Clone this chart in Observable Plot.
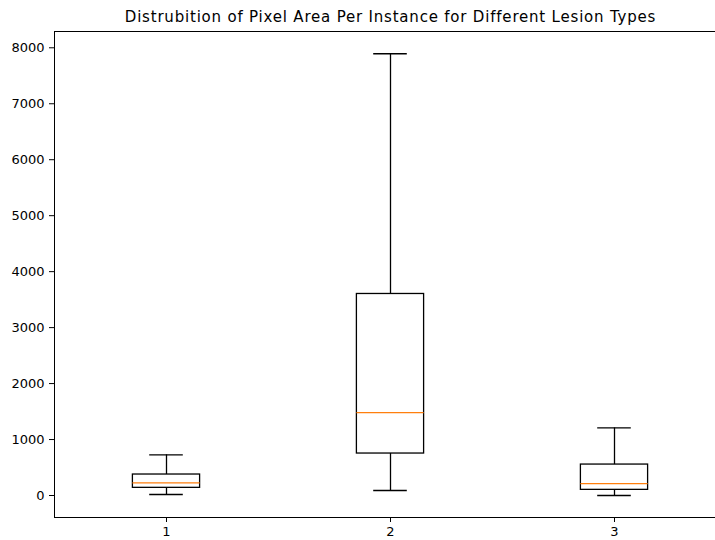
<!DOCTYPE html>
<html>
<head>
<meta charset="utf-8">
<script src="https://cdn.jsdelivr.net/npm/d3@7"></script>
<script src="https://cdn.jsdelivr.net/npm/@observablehq/plot@0.6"></script>
<style>
  html, body { margin: 0; padding: 0; background: #fff; }
  #chart svg { display: block; }
</style>
</head>
<body>
<div id="chart"></div>
<script>
const title = "Distrubition of Pixel Area Per Instance for Different Lesion Types";
const categories = [1, 2, 3];
const whiskerLow = [18, 89, 0];
const q1 = [137, 750, 101];
const median = [227, 1482, 214];
const q3 = [375, 3601, 553];
const whiskerHigh = [727, 7893, 1208];
const yTicks = [0, 1000, 2000, 3000, 4000, 5000, 6000, 7000, 8000];

const boxes = categories.map((c, i) => ({
  pos: c, lo: whiskerLow[i], q1: q1[i], med: median[i], q3: q3[i], hi: whiskerHigh[i]
}));

const W = 715, H = 540;
const mL = 54, mT = 31, mB = 23;
const halfBox = 0.15, halfCap = 0.075;
const font = "DejaVu Sans, sans-serif";

const chart = Plot.plot({
  width: W,
  height: H,
  marginLeft: mL,
  marginRight: 0,
  marginTop: mT,
  marginBottom: mB,
  style: { fontFamily: font, fontSize: "13px", color: "#000", background: "#fff" },
  x: { type: "linear", domain: [0.5, 3.5 - 11 / 224] },
  y: { domain: [-393, 8291] },
  marks: [
    Plot.frame({ anchor: "left", stroke: "#000", strokeWidth: 1 }),
    Plot.frame({ anchor: "bottom", stroke: "#000", strokeWidth: 1 }),
    Plot.frame({ anchor: "top", stroke: "#000", strokeWidth: 1 }),
    Plot.ruleX(boxes, { x: "pos", y1: "q3", y2: "hi", stroke: "#000", strokeWidth: 1.3 }),
    Plot.ruleX(boxes, { x: "pos", y1: "lo", y2: "q1", stroke: "#000", strokeWidth: 1.3 }),
    Plot.ruleY(boxes, { y: "hi", x1: d => d.pos - halfCap, x2: d => d.pos + halfCap, stroke: "#000", strokeWidth: 1.3 }),
    Plot.ruleY(boxes, { y: "lo", x1: d => d.pos - halfCap, x2: d => d.pos + halfCap, stroke: "#000", strokeWidth: 1.3 }),
    Plot.rect(boxes, { x1: d => d.pos - halfBox, x2: d => d.pos + halfBox, y1: "q1", y2: "q3", fill: "none", stroke: "#000", strokeWidth: 1.3 }),
    Plot.ruleY(boxes, { y: "med", x1: d => d.pos - halfBox, x2: d => d.pos + halfBox, stroke: "#ff7f0e", strokeWidth: 1.3 }),
    Plot.axisY({ ticks: yTicks, tickSize: 5, tickPadding: 5, tickFormat: d => String(d), label: null, fontSize: 13 }),
    Plot.axisX({ ticks: categories, tickSize: 5, tickPadding: 4, tickFormat: d => String(d), label: null, fontSize: 13 }),
    Plot.text([title], { frameAnchor: "top", lineAnchor: "middle", dx: 5.5, dy: -14.5, fontSize: 15, fill: "#000", fontFamily: font })
  ]
});
document.getElementById("chart").append(chart);
d3.select(chart).selectAll("text").filter(function () { return this.textContent === title; })
  .attr("letter-spacing", "0.8px");
</script>
</body>
</html>
